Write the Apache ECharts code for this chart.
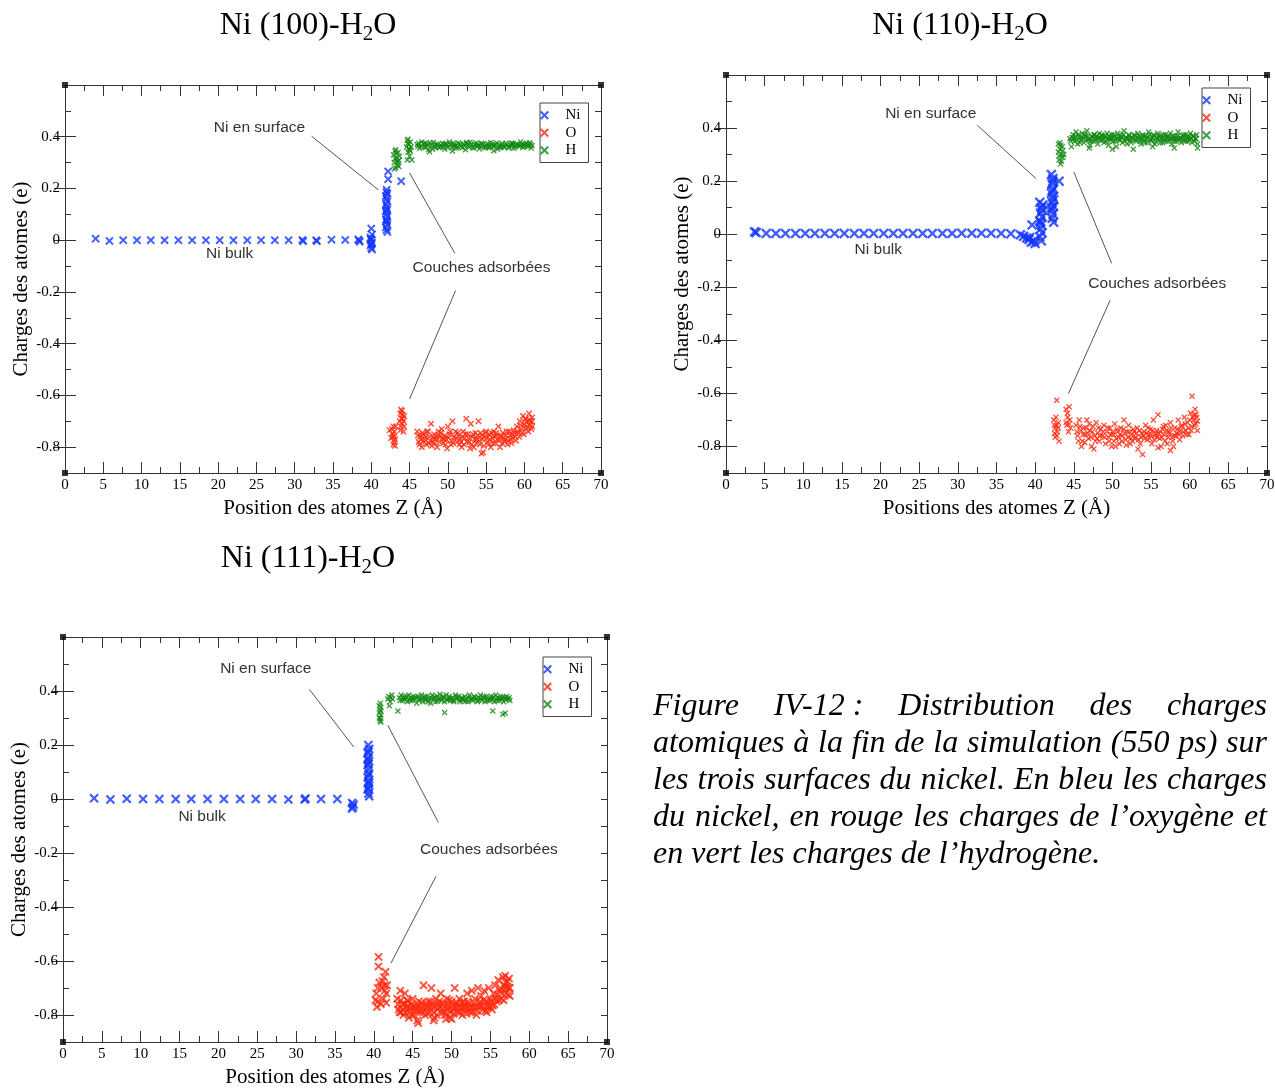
<!DOCTYPE html>
<html><head><meta charset="utf-8">
<script src="https://cdn.jsdelivr.net/npm/echarts@6/dist/echarts.min.js"></script>
<style>html,body{margin:0;padding:0;background:#fff}#c{width:1275px;height:1089px}</style>
</head><body><div id="c"></div>
<script>
// ---------- tick labels / text ----------
const yMajorTicks = [-0.8, -0.6, -0.4, -0.2, 0, 0.2, 0.4];
const seriesNames = ['Ni', 'O', 'H'];
const panelTitles = ['Ni (100)-H', 'Ni (110)-H', 'Ni (111)-H'];
const xAxisNames = ['Position des atomes Z (Å)', 'Positions des atomes Z (Å)', 'Position des atomes Z (Å)'];
const yAxisName = 'Charges des atomes (e)';
const captionLines = [
  'Figure IV-12\u00a0: Distribution des charges',
  'atomiques à la fin de la simulation (550 ps) sur',
  'les trois surfaces du nickel. En bleu les charges',
  'du nickel, en rouge les charges de l’oxygène et',
  'en vert les charges de l’hydrogène.'
];

// ---------- Ni(100) ----------
const p100_Ni = [
[4.0,0.006],[5.8,-0.003],[7.6,0.0],[9.4,0.0],[11.2,0.0],[13.0,0.0],[14.8,0.0],[16.6,0.0],[18.4,0.0],[20.2,0.0],[22.0,0.0],[23.8,0.0],[25.6,0.0],[27.4,0.0],[29.2,0.0],[31.0,0.001],[31.1,-0.004],[32.8,0.0],[32.9,-0.004],[34.8,0.002],[36.6,0.001],[38.4,-0.001],[38.5,-0.006],[38.3,0.003],
[40.0,0.045],[40.1,0.022],[39.9,0.01],[40.0,0.0],[40.1,-0.01],[39.9,-0.02],[40.0,-0.03],[40.1,-0.036],[39.9,0.005],[40.0,-0.015],
[42.0,0.195],[42.1,0.18],[41.9,0.17],[42.0,0.16],[42.1,0.15],[41.9,0.14],[42.0,0.13],[42.1,0.12],[41.9,0.11],[42.0,0.1],[42.1,0.09],[41.9,0.08],[42.0,0.07],[42.1,0.06],[41.9,0.05],[42.0,0.04],[42.1,0.032],[42.0,0.185],[41.95,0.115],[42.05,0.075],
[42.2,0.266],[42.2,0.236],[43.9,0.228]
];
const p100_O = [
[42.4,-0.735],[42.7,-0.73],[42.8,-0.76],[42.9,-0.79],[43.0,-0.74],[43.1,-0.77],[43.2,-0.72],[42.8,-0.75],[43.0,-0.78],[42.6,-0.765],[43.1,-0.795],[42.9,-0.72],[43.0,-0.76],
[43.7,-0.7],[43.8,-0.67],[43.9,-0.72],[44.0,-0.66],[44.1,-0.69],[44.2,-0.74],[44.3,-0.68],[43.9,-0.655],[44.0,-0.71],[44.2,-0.7],[43.8,-0.735],[44.3,-0.72],[44.1,-0.675],[43.9,-0.69],
[46.0,-0.74],[46.2,-0.78],[46.4,-0.76],[46.6,-0.8],[46.8,-0.75],[47.0,-0.77],[47.2,-0.79],[47.4,-0.74],[47.6,-0.76],[47.8,-0.71],[48.0,-0.78],[48.2,-0.75],[48.4,-0.77],[48.6,-0.8],[48.8,-0.74],[49.0,-0.76],[49.2,-0.73],[49.4,-0.785],[49.6,-0.755],[49.8,-0.77],[50.0,-0.72],[50.2,-0.75],[50.4,-0.79],[50.6,-0.7],[50.8,-0.76],[51.0,-0.74],[51.2,-0.78],[51.4,-0.755],[51.6,-0.77],[51.8,-0.8],[52.0,-0.74],[52.2,-0.765],[52.4,-0.69],[52.6,-0.75],[52.8,-0.78],[53.0,-0.71],[53.2,-0.76],[53.4,-0.8],[53.6,-0.745],[53.8,-0.77],[54.0,-0.7],[54.2,-0.79],[54.4,-0.755],[54.6,-0.82],[54.8,-0.76],[55.0,-0.74],[55.2,-0.78],[55.4,-0.75],[55.6,-0.8],[55.8,-0.765],[56.0,-0.74],[56.2,-0.785],[56.4,-0.755],[56.6,-0.72],[56.8,-0.8],[57.0,-0.76],[57.2,-0.745],[57.4,-0.78],[57.6,-0.755],[57.8,-0.79],[58.0,-0.74],[58.2,-0.77],[58.4,-0.75],[58.6,-0.735],[58.8,-0.76],[59.0,-0.72],[59.2,-0.745],[59.4,-0.7],[59.6,-0.73],[59.8,-0.68],[60.0,-0.71],[60.2,-0.69],[60.4,-0.725],[60.6,-0.67],[60.8,-0.7],[61.0,-0.685],[60.5,-0.74],[61.0,-0.72],[59.9,-0.75],
[46.5,-0.77],[47.5,-0.785],[48.5,-0.76],[49.5,-0.77],[50.5,-0.775],[51.5,-0.79],[52.5,-0.78],[53.5,-0.77],[54.5,-0.77],[55.5,-0.77],[56.5,-0.77],[57.5,-0.77],[58.5,-0.765],[49.9,-0.805],[52.9,-0.805],[54.4,-0.825],
[46.1,-0.755],[46.3,-0.79],[46.7,-0.745],[46.9,-0.78],[47.1,-0.76],[47.3,-0.74],[47.7,-0.775],[47.9,-0.795],[48.1,-0.765],[48.3,-0.785],[48.7,-0.755],[48.9,-0.78],[49.1,-0.745],[49.3,-0.765],[49.7,-0.79],[50.1,-0.765],[50.3,-0.74],[50.7,-0.785],[51.1,-0.765],[51.3,-0.745],[51.7,-0.78],[51.9,-0.76],[52.1,-0.79],[52.3,-0.75],[52.7,-0.765],[53.1,-0.79],[53.3,-0.75],[53.7,-0.785],[53.9,-0.755],[54.1,-0.775],[54.3,-0.745],[54.7,-0.795],[54.9,-0.745],[55.1,-0.765],[55.3,-0.79],[55.7,-0.745],[55.9,-0.785],[56.1,-0.76],[56.3,-0.745],[56.7,-0.775],[56.9,-0.755],[57.1,-0.785],[57.3,-0.765],[57.7,-0.74],[57.9,-0.775],[58.1,-0.755],[58.3,-0.785],[58.7,-0.745],[58.9,-0.775],[59.1,-0.74],[59.3,-0.76],[59.5,-0.715],[59.7,-0.745],[60.1,-0.725],[60.3,-0.705],[60.7,-0.715],[60.9,-0.73],[60.1,-0.69],[60.6,-0.695],[61.0,-0.7]
];
const p100_H = [
[42.9,0.33],[43.0,0.30],[43.1,0.345],[43.2,0.28],[43.3,0.32],[43.4,0.29],[43.5,0.34],[43.6,0.31],[43.0,0.275],[43.7,0.325],[43.2,0.35],[43.4,0.30],[43.6,0.285],[43.1,0.315],[43.3,0.335],[43.5,0.305],
[44.6,0.36],[44.7,0.385],[44.8,0.34],[44.9,0.37],[45.0,0.35],[45.1,0.38],[45.2,0.36],[44.8,0.39],[45.0,0.325],[44.7,0.31],[45.3,0.31],[44.9,0.355],[45.1,0.345],[44.8,0.375],
[46.0,0.37],[46.3,0.355],[46.6,0.38],[46.9,0.36],[47.2,0.372],[47.5,0.35],[47.8,0.366],[48.1,0.378],[48.4,0.357],[48.7,0.369],[49.0,0.36],[49.3,0.375],[49.6,0.352],[49.9,0.368],[50.2,0.38],[50.5,0.359],[50.8,0.37],[51.1,0.355],[51.4,0.376],[51.7,0.362],[52.0,0.372],[52.3,0.35],[52.6,0.367],[52.9,0.379],[53.2,0.358],[53.5,0.37],[53.8,0.363],[54.1,0.353],[54.4,0.375],[54.7,0.36],[55.0,0.368],[55.3,0.357],[55.6,0.378],[55.9,0.362],[56.2,0.37],[56.5,0.352],[56.8,0.366],[57.1,0.374],[57.4,0.358],[57.7,0.368],[58.0,0.361],[58.3,0.376],[58.6,0.355],[58.9,0.37],[59.2,0.364],[59.5,0.38],[59.8,0.358],[60.1,0.372],[60.4,0.362],[60.7,0.377],[61.0,0.366],
[46.1,0.362],[47.0,0.375],[48.0,0.352],[49.5,0.37],[50.9,0.362],[52.4,0.374],[53.9,0.371],[55.4,0.365],[56.9,0.359],[58.4,0.367],[59.9,0.369],[60.9,0.356],[47.6,0.342],[50.6,0.345],[56.0,0.346],
[46.2,0.375],[46.5,0.362],[46.8,0.372],[47.1,0.358],[47.4,0.368],[47.7,0.377],[48.2,0.365],[48.5,0.372],[48.8,0.358],[49.1,0.366],[49.4,0.36],[49.7,0.373],[50.0,0.357],[50.3,0.37],[50.7,0.376],[51.0,0.366],[51.3,0.36],[51.6,0.371],[51.9,0.357],[52.2,0.366],[52.5,0.378],[52.8,0.36],[53.1,0.37],[53.4,0.356],[53.7,0.376],[54.0,0.365],[54.3,0.362],[54.6,0.372],[54.9,0.357],[55.2,0.373],[55.5,0.36],[55.8,0.37],[56.1,0.365],[56.4,0.376],[56.7,0.358],[57.0,0.368],[57.3,0.362],[57.6,0.375],[57.9,0.357],[58.2,0.366],[58.5,0.374],[58.8,0.36],[59.1,0.372],[59.4,0.365],[59.7,0.37],[60.0,0.362],[60.3,0.375],[60.6,0.366],[60.8,0.37]
];

// ---------- Ni(110) ----------
const p110_Ni = [
[3.7,0.009],[3.9,0.006],[5.2,0.003],[6.45,0.003],[7.7,0.003],[9.0,0.003],[10.25,0.003],[11.5,0.003],[12.8,0.003],[14.05,0.003],[15.3,0.003],[16.6,0.003],[17.85,0.003],[19.1,0.003],[20.4,0.003],[21.65,0.003],[22.9,0.003],[24.2,0.003],[25.45,0.003],[26.7,0.003],[28.0,0.003],[29.25,0.003],[30.5,0.004],[31.8,0.004],[33.05,0.004],[34.3,0.004],[35.6,0.003],[36.85,0.002],[38.1,-0.002],
[38.5,-0.008],[38.9,-0.014],[39.2,-0.02],[39.5,-0.03],[39.8,-0.025],[40.0,-0.035],[39.3,-0.012],[39.6,0.035],
[40.6,0.12],[40.8,0.1],[40.7,0.08],[40.9,0.065],[40.6,0.05],[40.8,0.035],[40.7,0.02],[40.9,0.005],[40.6,-0.01],[40.8,-0.025],[40.9,0.09],[40.7,0.045],[41.0,0.11],
[42.1,0.225],[42.3,0.21],[42.2,0.19],[42.4,0.17],[42.1,0.155],[42.3,0.14],[42.2,0.12],[42.4,0.105],[42.1,0.09],[42.3,0.075],[42.2,0.06],[42.4,0.045],[42.3,0.2],[42.2,0.165],[42.4,0.13],[42.1,0.1],[43.1,0.2]
];
const p110_O = [
[42.8,-0.626],[42.4,-0.7],[42.6,-0.73],[42.8,-0.76],[43.0,-0.71],[42.5,-0.75],[42.7,-0.69],[42.9,-0.745],[43.1,-0.78],[42.6,-0.765],[43.0,-0.73],[42.8,-0.72],[42.5,-0.72],
[44.0,-0.66],[44.2,-0.69],[44.4,-0.65],[44.1,-0.72],[44.3,-0.745],[44.5,-0.7],[44.2,-0.675],[44.6,-0.73],[44.0,-0.71],[44.4,-0.715],
[45.3,-0.72],[45.5,-0.76],[45.7,-0.7],[45.9,-0.74],[46.1,-0.78],[46.3,-0.73],[46.5,-0.755],[46.7,-0.7],[46.9,-0.77],[47.1,-0.74],[47.3,-0.8],[47.5,-0.725],[47.7,-0.76],[47.9,-0.71],[48.1,-0.75],[48.3,-0.78],[48.5,-0.735],[48.7,-0.76],[48.9,-0.72],[49.1,-0.79],[49.3,-0.745],[49.5,-0.765],[49.7,-0.73],[49.9,-0.8],[50.1,-0.755],[50.3,-0.715],[50.5,-0.77],[50.7,-0.745],[50.9,-0.79],[51.1,-0.73],[51.3,-0.76],[51.5,-0.7],[51.7,-0.775],[51.9,-0.745],[52.1,-0.72],[52.3,-0.79],[52.5,-0.755],[52.7,-0.735],[52.9,-0.77],[53.1,-0.75],[53.3,-0.81],[53.5,-0.74],[53.7,-0.765],[53.9,-0.83],[54.1,-0.745],[54.3,-0.72],[54.5,-0.775],[54.7,-0.755],[54.9,-0.735],[55.1,-0.79],[55.3,-0.7],[55.5,-0.76],[55.7,-0.74],[55.9,-0.68],[56.1,-0.77],[56.3,-0.8],[56.5,-0.735],[56.7,-0.755],[56.9,-0.72],[57.1,-0.79],[57.3,-0.745],[57.5,-0.71],[57.7,-0.765],[57.9,-0.8],[58.1,-0.73],[58.3,-0.75],[58.5,-0.7],[58.7,-0.775],[58.9,-0.725],[59.1,-0.76],[59.3,-0.69],[59.5,-0.74],[59.7,-0.71],[59.9,-0.755],[60.1,-0.675],[60.3,-0.725],[60.5,-0.7],[60.7,-0.66],[60.9,-0.69],[61.0,-0.74],[60.8,-0.715],[60.6,-0.68],[60.3,-0.611],
[46.0,-0.8],[48.0,-0.77],[50.0,-0.745],[52.0,-0.765],[54.0,-0.76],[56.0,-0.75],[58.0,-0.76],[47.6,-0.81],[50.4,-0.8],[55.9,-0.805],[57.5,-0.815],
[45.4,-0.745],[45.6,-0.78],[45.8,-0.725],[46.2,-0.755],[46.4,-0.785],[46.6,-0.73],[46.8,-0.75],[47.0,-0.715],[47.2,-0.765],[47.4,-0.745],[47.8,-0.78],[48.2,-0.73],[48.4,-0.76],[48.8,-0.745],[49.0,-0.765],[49.4,-0.73],[49.6,-0.78],[49.8,-0.755],[50.2,-0.78],[50.6,-0.735],[50.8,-0.765],[51.0,-0.755],[51.2,-0.78],[51.4,-0.735],[51.6,-0.75],[51.8,-0.795],[52.2,-0.745],[52.4,-0.77],[52.6,-0.78],[52.8,-0.745],[53.0,-0.765],[53.2,-0.73],[53.4,-0.775],[53.6,-0.79],[53.8,-0.75],[54.2,-0.77],[54.4,-0.75],[54.6,-0.73],[54.8,-0.77],[55.0,-0.755],[55.2,-0.74],[55.4,-0.775],[55.6,-0.75],[55.8,-0.765],[56.2,-0.745],[56.4,-0.765],[56.6,-0.725],[56.8,-0.78],[57.0,-0.74],[57.2,-0.765],[57.4,-0.75],[57.6,-0.73],[57.8,-0.78],[58.2,-0.76],[58.4,-0.735],[58.6,-0.755],[58.8,-0.74],[59.0,-0.72],[59.2,-0.745],[59.4,-0.715],[59.6,-0.755],[59.8,-0.73],[60.0,-0.7],[60.2,-0.74],[60.4,-0.69],[60.6,-0.72],[60.8,-0.68],[61.0,-0.705]
];
const p110_H = [
[43.0,0.34],[43.2,0.32],[43.4,0.3],[43.1,0.28],[43.3,0.265],[43.5,0.33],[43.6,0.29],[43.0,0.31],[43.2,0.345],[43.4,0.275],[43.6,0.315],[43.7,0.3],[43.3,0.335],[43.1,0.295],
[44.5,0.36],[44.7,0.33],[44.9,0.375],[45.1,0.35],[45.3,0.385],[45.5,0.34],[45.7,0.365],[45.9,0.355],[46.1,0.38],[46.3,0.345],[46.5,0.37],[46.7,0.39],[46.9,0.355],[47.1,0.335],[47.3,0.37],[47.5,0.35],[47.7,0.375],[47.9,0.36],[48.1,0.34],[48.3,0.38],[48.5,0.355],[48.7,0.37],[48.9,0.345],[49.1,0.365],[49.3,0.38],[49.5,0.335],[49.7,0.36],[49.9,0.375],[50.1,0.35],[50.3,0.365],[50.5,0.33],[50.7,0.38],[50.9,0.355],[51.1,0.37],[51.3,0.345],[51.5,0.39],[51.7,0.36],[51.9,0.34],[52.1,0.375],[52.3,0.355],[52.5,0.365],[52.7,0.32],[52.9,0.37],[53.1,0.35],[53.3,0.38],[53.5,0.36],[53.7,0.34],[53.9,0.375],[54.1,0.355],[54.3,0.37],[54.5,0.345],[54.7,0.385],[54.9,0.36],[55.1,0.35],[55.3,0.375],[55.5,0.34],[55.7,0.365],[55.9,0.38],[56.1,0.355],[56.3,0.37],[56.5,0.345],[56.7,0.36],[56.9,0.375],[57.1,0.35],[57.3,0.365],[57.5,0.38],[57.7,0.34],[57.9,0.36],[58.1,0.37],[58.3,0.35],[58.5,0.385],[58.7,0.36],[58.9,0.345],[59.1,0.37],[59.3,0.355],[59.5,0.375],[59.7,0.35],[59.9,0.365],[60.1,0.38],[60.3,0.345],[60.5,0.37],[60.7,0.36],[60.9,0.375],[61.0,0.34],[61.0,0.325],
[47.0,0.325],[50.0,0.32],[55.2,0.33],[58.0,0.325],
[44.6,0.35],[44.8,0.365],[45.0,0.36],[45.2,0.37],[45.4,0.355],[45.6,0.375],[45.8,0.345],[46.0,0.365],[46.2,0.36],[46.4,0.375],[46.6,0.355],[46.8,0.37],[47.0,0.36],[47.2,0.35],[47.4,0.365],[47.6,0.375],[47.8,0.355],[48.0,0.37],[48.2,0.36],[48.4,0.365],[48.6,0.375],[48.8,0.355],[49.0,0.37],[49.2,0.35],[49.4,0.36],[49.6,0.37],[49.8,0.355],[50.0,0.365],[50.2,0.375],[50.4,0.35],[50.6,0.36],[50.8,0.37],[51.0,0.355],[51.2,0.365],[51.4,0.375],[51.6,0.35],[51.8,0.365],[52.0,0.36],[52.2,0.37],[52.4,0.345],[52.6,0.36],[52.8,0.375],[53.0,0.355],[53.2,0.365],[53.4,0.37],[53.6,0.35],[53.8,0.36],[54.0,0.37],[54.2,0.345],[54.4,0.36],[54.6,0.365],[54.8,0.375],[55.0,0.355],[55.2,0.365],[55.4,0.37],[55.6,0.35],[55.8,0.36],[56.0,0.37],[56.2,0.345],[56.4,0.36],[56.6,0.375],[56.8,0.35],[57.0,0.365],[57.2,0.37],[57.4,0.355],[57.6,0.36],[57.8,0.37],[58.0,0.35],[58.2,0.36],[58.4,0.37],[58.6,0.355],[58.8,0.365],[59.0,0.36],[59.2,0.375],[59.4,0.35],[59.6,0.365],[59.8,0.37],[60.0,0.355],[60.2,0.36],[60.4,0.37],[60.6,0.35],[60.8,0.36]
];

// ---------- Ni(111) ----------
const p111_Ni = [
[4.0,0.003],[6.1,-0.002],[8.2,0.001],[10.3,0.0],[12.4,0.0],[14.5,0.0],[16.5,0.0],[18.6,0.0],[20.7,0.0],[22.8,0.0],[24.8,0.0],[26.9,0.0],[29.0,-0.002],[31.1,-0.002],[31.2,0.002],[33.2,0.0],[35.3,0.0],
[37.2,-0.015],[37.3,-0.03],[37.4,-0.02],[37.2,-0.035],
[39.3,0.2],[39.4,0.185],[39.2,0.17],[39.3,0.155],[39.4,0.14],[39.2,0.125],[39.3,0.11],[39.4,0.095],[39.2,0.08],[39.3,0.065],[39.4,0.05],[39.2,0.035],[39.3,0.02],[39.4,0.01],[39.3,0.175],[39.3,0.09],[39.2,0.145],[39.4,0.06],[39.3,0.13],[39.3,0.04]
];
const p111_O = [
[40.6,-0.585],[40.6,-0.62],[41.5,-0.64],[40.3,-0.72],[40.5,-0.75],[40.7,-0.68],[41.0,-0.7],[41.3,-0.66],[41.6,-0.72],[40.4,-0.77],[41.2,-0.74],[41.7,-0.69],[40.9,-0.76],[41.4,-0.71],[40.2,-0.745],[41.1,-0.675],[41.6,-0.755],[40.5,-0.7],[41.4,-0.69],
[43.0,-0.74],[43.2,-0.78],[43.4,-0.71],[43.6,-0.76],[43.8,-0.8],[44.0,-0.72],[44.2,-0.77],[44.4,-0.75],[44.6,-0.79],[44.8,-0.76],[45.0,-0.74],[45.2,-0.8],[45.4,-0.77],[45.6,-0.82],[45.8,-0.75],[46.0,-0.78],[46.2,-0.76],[46.4,-0.69],[46.6,-0.8],[46.8,-0.77],[47.0,-0.75],[47.2,-0.79],[47.4,-0.7],[47.6,-0.76],[47.8,-0.81],[48.0,-0.74],[48.2,-0.78],[48.4,-0.75],[48.6,-0.72],[48.8,-0.79],[49.0,-0.76],[49.2,-0.8],[49.4,-0.74],[49.6,-0.77],[49.8,-0.81],[50.0,-0.75],[50.2,-0.78],[50.4,-0.7],[50.6,-0.76],[50.8,-0.79],[51.0,-0.74],[51.2,-0.77],[51.4,-0.8],[51.6,-0.75],[51.8,-0.78],[52.0,-0.72],[52.2,-0.76],[52.4,-0.79],[52.6,-0.71],[52.8,-0.77],[53.0,-0.74],[53.2,-0.8],[53.4,-0.7],[53.6,-0.76],[53.8,-0.73],[54.0,-0.78],[54.2,-0.71],[54.4,-0.75],[54.6,-0.77],[54.8,-0.7],[55.0,-0.74],[55.2,-0.78],[55.4,-0.72],[55.6,-0.69],[55.8,-0.75],[56.0,-0.67],[56.2,-0.71],[56.4,-0.74],[56.6,-0.66],[56.8,-0.69],[57.0,-0.72],[57.2,-0.675],[57.4,-0.7],[57.5,-0.73],[56.9,-0.655],
[43.5,-0.79],[44.5,-0.77],[45.5,-0.78],[46.5,-0.78],[47.5,-0.77],[48.5,-0.77],[49.5,-0.78],[50.5,-0.77],[51.5,-0.77],[52.5,-0.77],[53.5,-0.77],[54.5,-0.79],[55.5,-0.76],[45.7,-0.83],[47.7,-0.82],[50.0,-0.815],[44.5,-0.81],[49.3,-0.815],
[43.1,-0.76],[43.3,-0.79],[43.5,-0.745],[43.7,-0.78],[43.9,-0.76],[44.1,-0.79],[44.3,-0.745],[44.7,-0.775],[44.9,-0.8],[45.1,-0.765],[45.3,-0.785],[45.7,-0.765],[45.9,-0.79],[46.1,-0.755],[46.3,-0.79],[46.7,-0.76],[46.9,-0.795],[47.1,-0.77],[47.3,-0.75],[47.7,-0.79],[47.9,-0.765],[48.1,-0.8],[48.3,-0.76],[48.7,-0.755],[48.9,-0.775],[49.1,-0.79],[49.5,-0.76],[49.7,-0.745],[49.9,-0.79],[50.1,-0.765],[50.3,-0.795],[50.7,-0.755],[50.9,-0.77],[51.1,-0.79],[51.3,-0.755],[51.7,-0.765],[51.9,-0.795],[52.1,-0.75],[52.3,-0.775],[52.7,-0.79],[52.9,-0.755],[53.1,-0.77],[53.3,-0.785],[53.7,-0.75],[53.9,-0.765],[54.1,-0.745],[54.3,-0.785],[54.7,-0.755],[54.9,-0.77],[55.1,-0.75],[55.3,-0.765],[55.7,-0.74],[55.9,-0.725],[56.1,-0.745],[56.3,-0.7],[56.5,-0.72],[56.7,-0.745],[56.9,-0.7],[57.1,-0.695],[57.3,-0.725],[57.5,-0.7],[57.4,-0.665],[57.0,-0.68]
];
const p111_H = [
[40.8,0.355],[40.9,0.34],[40.7,0.32],[40.8,0.3],[40.9,0.285],[40.7,0.345],[40.8,0.33],[40.9,0.31],[40.8,0.29],[40.7,0.3],[40.9,0.325],
[41.9,0.38],[42.1,0.36],[42.3,0.385],[42.0,0.345],[42.4,0.37],[43.1,0.326],[41.8,0.37],[42.2,0.375],
[43.3,0.375],[43.5,0.385],[43.7,0.365],[43.9,0.38],[44.1,0.37],[44.3,0.36],[44.5,0.385],[44.7,0.375],[44.9,0.365],[45.1,0.38],[45.3,0.37],[45.5,0.355],[45.7,0.38],[45.9,0.37],[46.1,0.385],[46.3,0.36],[46.5,0.375],[46.7,0.365],[46.9,0.38],[47.1,0.37],[47.3,0.355],[47.5,0.385],[47.7,0.37],[47.9,0.36],[48.1,0.38],[48.3,0.37],[48.5,0.388],[48.7,0.365],[48.9,0.375],[49.1,0.36],[49.3,0.385],[49.5,0.37],[49.7,0.38],[49.9,0.365],[50.1,0.375],[50.3,0.36],[50.5,0.385],[50.7,0.37],[50.9,0.38],[51.1,0.36],[51.3,0.375],[51.5,0.365],[51.7,0.38],[51.9,0.37],[52.1,0.36],[52.3,0.385],[52.5,0.37],[52.7,0.365],[52.9,0.38],[53.1,0.37],[53.3,0.36],[53.5,0.375],[53.7,0.385],[53.9,0.365],[54.1,0.375],[54.3,0.36],[54.5,0.38],[54.7,0.37],[54.9,0.365],[55.1,0.38],[55.3,0.37],[55.5,0.36],[55.7,0.385],[55.9,0.375],[56.1,0.365],[56.3,0.38],[56.5,0.37],[56.7,0.36],[56.9,0.375],[57.1,0.38],[57.3,0.37],[57.5,0.365],
[49.1,0.32],[55.3,0.326],[56.6,0.314],[56.9,0.318],
[43.4,0.365],[43.8,0.372],[44.2,0.38],[44.6,0.365],[45.0,0.372],[45.4,0.378],[45.8,0.365],[46.2,0.372],[46.6,0.38],[47.0,0.36],[47.4,0.372],[47.8,0.378],[48.2,0.362],[48.6,0.372],[49.0,0.38],[49.4,0.366],[49.8,0.372],[50.2,0.365],[50.6,0.378],[51.0,0.368],[51.4,0.372],[51.8,0.362],[52.2,0.375],[52.6,0.368],[53.0,0.378],[53.4,0.365],[53.8,0.372],[54.2,0.38],[54.6,0.365],[55.0,0.372],[55.4,0.378],[55.8,0.365],[56.2,0.372],[56.6,0.378],[57.0,0.368],[57.4,0.375]
];

// plot frame corners (xmgrace-style black squares)
const corners = [[0,-0.9],[70,-0.9],[0,0.6],[70,0.6]];

// annotations in data coordinates
const ann100 = {texts:[['Ni en surface',25.4,0.436],['Ni bulk',21.5,-0.053],['Couches adsorbées',54.4,-0.108]],
  arrows:[[32.2,0.402,40.9,0.195],[50.9,-0.05,45.0,0.26],[51.0,-0.195,45.0,-0.614]]};
const ann110 = {texts:[['Ni en surface',26.5,0.453],['Ni bulk',19.7,-0.057],['Couches adsorbées',55.8,-0.185]],
  arrows:[[32.5,0.411,40.1,0.21],[49.9,-0.11,45.0,0.235],[49.7,-0.249,44.3,-0.601]]};
const ann111 = {texts:[['Ni en surface',26.1,0.481],['Ni bulk',17.9,-0.067],['Couches adsorbées',54.8,-0.186]],
  arrows:[[31.7,0.406,37.4,0.193],[48.3,-0.087,41.8,0.273],[48.0,-0.286,42.2,-0.608]]};

// ---------- styling ----------
const SERIF = "'Liberation Serif','Times New Roman',serif";
const SANS = "'Liberation Sans',Arial,sans-serif";
const XSYM = 'path://M0,1.6L1.6,0L5,3.4L8.4,0L10,1.6L6.6,5L10,8.4L8.4,10L5,6.6L1.6,10L0,8.4L3.4,5Z';
const BLUE = '#1235ff', RED = '#ff2a10', GREEN = '#0f870f';
const AX = '#333';

const grids = [
  {left:65, top:85, width:536, height:388},
  {left:726, top:75, width:541, height:398},
  {left:63, top:637, width:544, height:405}
];
const panels = [
  {ni:p100_Ni, o:p100_O, h:p100_H, sz:[8.5,6.5,6], ann:ann100, legend:{left:540, top:103}},
  {ni:p110_Ni, o:p110_O, h:p110_H, sz:[10.5,6,6], ann:ann110, legend:{left:1202, top:88}},
  {ni:p111_Ni, o:p111_O, h:p111_H, sz:[9.5,8.5,6], ann:ann111, legend:{left:543, top:657}}
];

const xAxes = [], yAxes = [], series = [], legends = [];
function yFmt(v){ const t = Math.round(v*10); if (t % 2 !== 0 || t > 4 || t < -8) return ''; return t === 0 ? '0' : (t/10).toFixed(1); }
const axLine = {show:true, onZero:false, lineStyle:{color:AX, width:1}};

panels.forEach((p, gi) => {
  const xb = {gridIndex:gi, type:'value', min:0, max:70, interval:5, splitLine:{show:false},
    axisLine:axLine, axisTick:{inside:true, length:11, lineStyle:{color:AX}},
    minorTick:{show:true, splitNumber:2, length:6, lineStyle:{color:AX}}};
  xAxes.push(Object.assign({}, xb, {position:'bottom', name:xAxisNames[gi], nameLocation:'middle', nameGap:25,
    nameTextStyle:{fontFamily:SERIF, fontSize:21, color:'#000'},
    axisLabel:{margin:5, fontFamily:SERIF, fontSize:15, color:'#000'}}));
  xAxes.push(Object.assign({}, xb, {position:'top', axisLabel:{show:false}}));
  const yb = {gridIndex:gi, type:'value', min:-0.9, max:0.6, splitLine:{show:false}};
  yAxes.push(Object.assign({}, yb, {position:'left', interval:0.1, axisLine:axLine,
    axisTick:{inside:true, length:6, lineStyle:{color:AX}},
    name:yAxisName, nameLocation:'middle', nameGap:33, nameRotate:90,
    nameTextStyle:{fontFamily:SERIF, fontSize:21, color:'#000'},
    axisLabel:{margin:5, fontFamily:SERIF, fontSize:15, color:'#000', formatter:yFmt, showMaxLabel:false}}));
  yAxes.push(Object.assign({}, yb, {position:'left', axisLine:{show:false},
    axisTick:{inside:true, length:11, lineStyle:{color:AX}, customValues:yMajorTicks}, axisLabel:{show:false}}));
  yAxes.push(Object.assign({}, yb, {position:'right', interval:0.1, axisLine:axLine,
    axisTick:{inside:true, length:6, lineStyle:{color:AX}}, axisLabel:{show:false}}));
  yAxes.push(Object.assign({}, yb, {position:'right', axisLine:{show:false},
    axisTick:{inside:true, length:11, lineStyle:{color:AX}, customValues:yMajorTicks}, axisLabel:{show:false}}));

  const xi = 2*gi, yi = 4*gi;
  const base = {type:'scatter', xAxisIndex:xi, yAxisIndex:yi, symbol:XSYM, animation:false, silent:true};
  series.push(Object.assign({}, base, {name:'Ni', data:p.ni, symbolSize:p.sz[0], itemStyle:{color:BLUE}, z:3,
    markLine:{silent:true, animation:false, symbol:['none','arrow'], symbolSize:[0,6],
      lineStyle:{color:'#555', width:1, type:'solid'}, label:{show:false},
      data:p.ann.arrows.map(a => [{coord:[a[0],a[1]]},{coord:[a[2],a[3]]}])},
    markPoint:{silent:true, animation:false, symbol:'circle', symbolSize:1, itemStyle:{color:'rgba(0,0,0,0)'},
      label:{show:true, position:'inside', formatter:'{b}', color:'#333', fontFamily:SANS, fontSize:15.5},
      data:p.ann.texts.map(t => ({name:t[0], coord:[t[1],t[2]]}))}
  }));
  series.push(Object.assign({}, base, {name:'O', data:p.o, symbolSize:p.sz[1], itemStyle:{color:RED}, z:2}));
  series.push(Object.assign({}, base, {name:'H', data:p.h, symbolSize:p.sz[2], itemStyle:{color:GREEN}, z:2}));
  series.push({type:'scatter', name:'frame', xAxisIndex:xi, yAxisIndex:yi, data:corners, symbol:'rect', symbolSize:6,
    itemStyle:{color:'#000'}, clip:false, silent:true, animation:false, z:5});

  legends.push({left:p.legend.left, top:p.legend.top, orient:'vertical', data:seriesNames,
    itemWidth:32, itemHeight:9, itemGap:1, padding:[4,8,4,0], selectedMode:false,
    borderColor:'#444', borderWidth:1, borderRadius:0, backgroundColor:'#fff',
    textStyle:{fontFamily:SERIF, fontSize:15, color:'#000', lineHeight:16.5}});
});

// ---------- titles and caption as graphic text ----------
const cv = document.createElement('canvas').getContext('2d');
function tw(text, font){ cv.font = font; return cv.measureText(text).width; }
const graphic = [];
const titlePos = [[308,26],[960,26],[308,559]];
panelTitles.forEach((t, i) => {
  const fBig = "32px 'Liberation Serif'", fSub = "21px 'Liberation Serif'";
  const w1 = tw(t, fBig), w2 = tw('2', fSub), w3 = tw('O', fBig);
  let x = titlePos[i][0] - (w1+w2+w3)/2; const cy = titlePos[i][1];
  graphic.push({type:'text', style:{text:t, x:x, y:cy, font:fBig, fill:'#000', verticalAlign:'middle', align:'left'}});
  graphic.push({type:'text', style:{text:'2', x:x+w1, y:cy+8, font:fSub, fill:'#000', verticalAlign:'middle', align:'left'}});
  graphic.push({type:'text', style:{text:'O', x:x+w1+w2, y:cy, font:fBig, fill:'#000', verticalAlign:'middle', align:'left'}});
});
const capFont = "italic 32px 'Liberation Serif'";
const capL = 653, capR = 1267, capY0 = 707, capDY = 37;
captionLines.forEach((line, li) => {
  const y = capY0 + li*capDY;
  if (li === captionLines.length - 1) {
    graphic.push({type:'text', style:{text:line, x:capL, y:y, font:capFont, fill:'#000', verticalAlign:'middle', align:'left'}});
    return;
  }
  const words = line.split(' ');
  const ws = words.map(w => tw(w, capFont));
  const total = ws.reduce((a,b)=>a+b,0);
  const gap = (capR - capL - total) / (words.length - 1);
  let x = capL;
  words.forEach((w, k) => {
    graphic.push({type:'text', style:{text:w, x:x, y:y, font:capFont, fill:'#000', verticalAlign:'middle', align:'left'}});
    x += ws[k] + gap;
  });
});

const chart = echarts.init(document.getElementById('c'), null, {renderer:'canvas'});
chart.setOption({
  backgroundColor:'#fff',
  animation:false,
  grid:grids.map(g => Object.assign({containLabel:false, outerBoundsMode:'none'}, g)),
  xAxis:xAxes, yAxis:yAxes, series:series, legend:legends, graphic:graphic
});
</script></body></html>
